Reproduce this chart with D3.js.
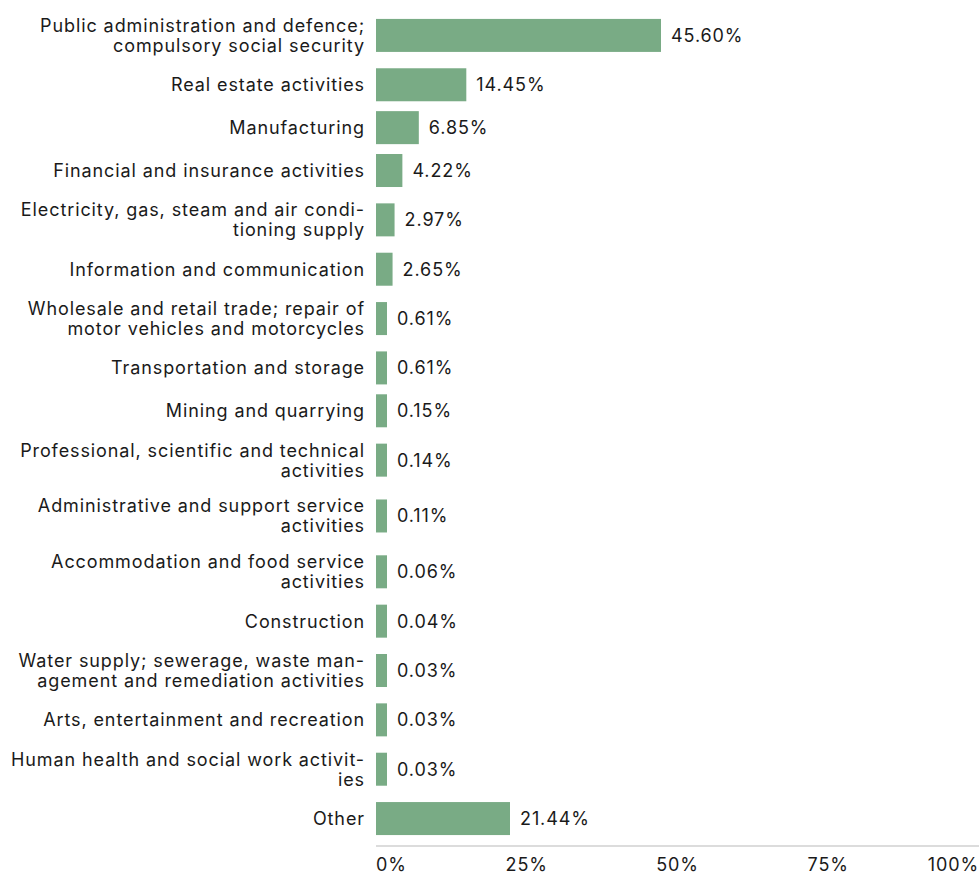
<!DOCTYPE html>
<html>
<head>
<meta charset="utf-8">
<script src="https://cdn.jsdelivr.net/npm/d3@7"></script>
<style>
  body { margin: 0; background: #fff; }
  svg { display: block; font-family: Inter, "Noto Sans", sans-serif; letter-spacing: 0.9px; }
</style>
</head>
<body>
<svg width="979" height="873"></svg>
<script>
// categories, with the line breaks used in the original
const categories = [
    "Public administration and defence;\ncompulsory social security",
    "Real estate activities",
    "Manufacturing",
    "Financial and insurance activities",
    "Electricity, gas, steam and air condi-\ntioning supply",
    "Information and communication",
    "Wholesale and retail trade; repair of\nmotor vehicles and motorcycles",
    "Transportation and storage",
    "Mining and quarrying",
    "Professional, scientific and technical\nactivities",
    "Administrative and support service\nactivities",
    "Accommodation and food service\nactivities",
    "Construction",
    "Water supply; sewerage, waste man-\nagement and remediation activities",
    "Arts, entertainment and recreation",
    "Human health and social work activit-\nies",
    "Other"
];
const shares = [45.60, 14.45, 6.85, 4.22, 2.97, 2.65, 0.61, 0.61, 0.15, 0.14, 0.11, 0.06, 0.04, 0.03, 0.03, 0.03, 21.44];
const tickValues = [0, 25, 50, 75, 100];

const svg = d3.select("svg");
const width = +svg.attr("width");
const left = 376;
const barH = 33;
const minBar = 11;

const rows = categories.map((c, i) => ({ lines: c.split("\n"), value: shares[i] }));

// rows with two text lines are taller than single-line rows
const unit = d => d.lines.length > 1 ? 56 : 43;
const ends = d3.cumsum(rows, unit);
rows.forEach((d, i) => { d.mid = ends[i] - unit(d) / 2; });

const y = d3.scaleLinear().domain([0, ends[ends.length - 1]]).range([7.5, 840]);
const x = d3.scaleLinear().domain([0, 100]).range([left, 1001]);
const xAxis = d3.scaleLinear().domain([0, 100]).range([left, width]);

const barW = d => Math.max(minBar, x(d.value) - x(0));

// Bars
svg.append("g").attr("class", "bars")
    .selectAll("rect")
    .data(rows)
    .enter().append("rect")
    .attr("x", x(0))
    .attr("y", d => y(d.mid) - barH / 2)
    .attr("width", barW)
    .attr("height", barH)
    .style("fill", "#79ab85");

// Category labels
const label = svg.append("g").attr("class", "labels")
    .selectAll("text")
    .data(rows)
    .enter().append("text")
    .attr("x", left - 12)
    .attr("y", d => y(d.mid))
    .attr("text-anchor", "end")
    .style("font-size", "18px")
    .style("fill", "#1a1a1a");

label.selectAll("tspan")
    .data(d => d.lines.map((t, i, a) => ({ t, dy: (i - (a.length - 1) / 2) * 20 })))
    .enter().append("tspan")
    .attr("x", left - 11)
    .attr("dy", (d, i) => i === 0 ? (d.dy + 6.5) + "px" : "20px")
    .text(d => d.t);

// Value labels
svg.append("g").attr("class", "values")
    .selectAll("text")
    .data(rows)
    .enter().append("text")
    .attr("x", d => x(0) + barW(d) + 10)
    .attr("y", d => y(d.mid) + 6.5)
    .style("font-size", "18px")
    .style("fill", "#1a1a1a")
    .text(d => d.value.toFixed(2) + "%");

// Axis baseline and tick labels
svg.append("line")
    .attr("x1", xAxis(0)).attr("x2", xAxis(100))
    .attr("y1", 846).attr("y2", 846)
    .style("stroke", "#dcdcdc")
    .style("stroke-width", "2px");

svg.append("g").attr("class", "ticks")
    .selectAll("text")
    .data(tickValues)
    .enter().append("text")
    .attr("x", d => xAxis(d))
    .attr("y", 871)
    .attr("text-anchor", d => d === 0 ? "start" : d === 100 ? "end" : "middle")
    .style("font-size", "18px")
    .style("fill", "#1a1a1a")
    .text(d => d + "%");
</script>
</body>
</html>
